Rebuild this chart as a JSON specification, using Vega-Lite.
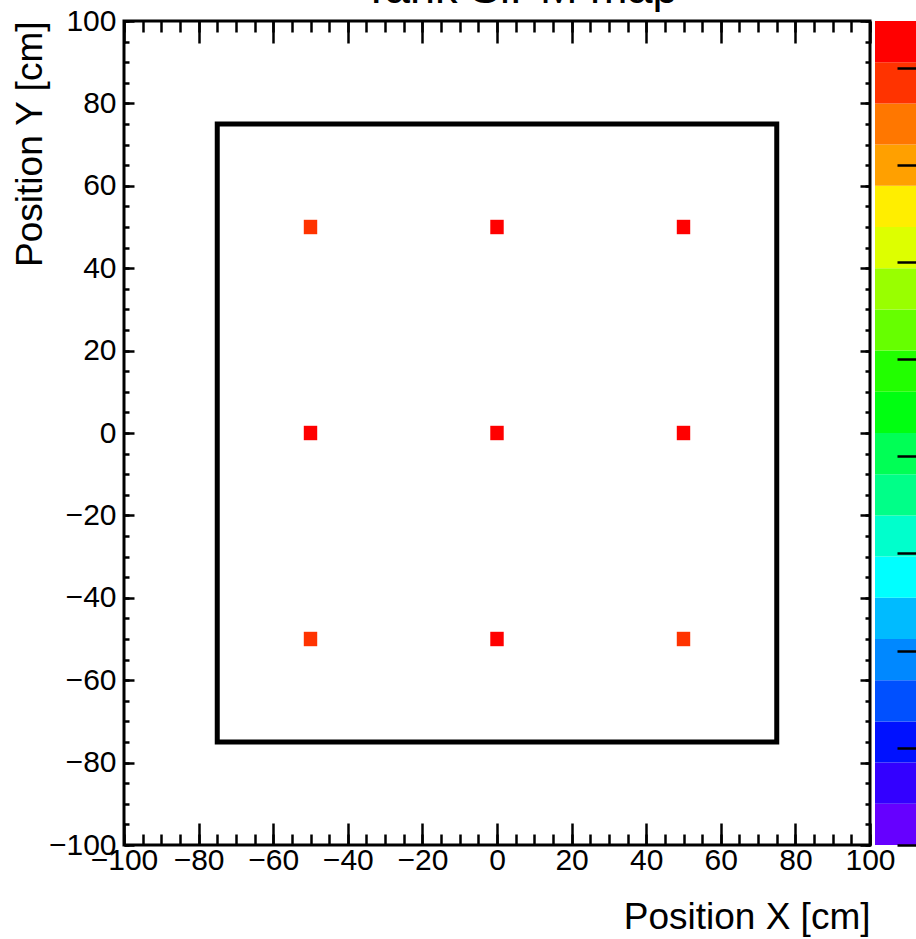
{
  "$schema": "https://vega.github.io/schema/vega-lite/v6.json",
  "background": "white",
  "padding": {"left": 9, "top": -35, "right": 0, "bottom": 0},
  "datasets": {
    "bins": [
      {"row": "top", "xlo": -51.8, "xhi": -48.2, "ylo": 48.25, "yhi": 51.75, "z": 39.5},
      {"row": "top", "xlo": -1.8, "xhi": 1.8, "ylo": 48.25, "yhi": 51.75, "z": 41.6},
      {"row": "top", "xlo": 48.2, "xhi": 51.8, "ylo": 48.25, "yhi": 51.75, "z": 41.2},
      {"row": "mid", "xlo": -51.8, "xhi": -48.2, "ylo": -1.75, "yhi": 1.75, "z": 41.8},
      {"row": "mid", "xlo": -1.8, "xhi": 1.8, "ylo": -1.75, "yhi": 1.75, "z": 42.2},
      {"row": "mid", "xlo": 48.2, "xhi": 51.8, "ylo": -1.75, "yhi": 1.75, "z": 41.5},
      {"row": "bot", "xlo": -51.8, "xhi": -48.2, "ylo": -51.75, "yhi": -48.25, "z": 39.8},
      {"row": "bot", "xlo": -1.8, "xhi": 1.8, "ylo": -51.75, "yhi": -48.25, "z": 41.0},
      {"row": "bot", "xlo": 48.2, "xhi": 51.8, "ylo": -51.75, "yhi": -48.25, "z": 39.4}
    ],
    "tank": [
      {"x1": -75, "x2": 75, "y1": -75, "y2": 75}
    ],
    "palette": [
      {"lo": 0, "hi": 2.12, "mid": 1.06},
      {"lo": 2.12, "hi": 4.24, "mid": 3.18},
      {"lo": 4.24, "hi": 6.36, "mid": 5.3},
      {"lo": 6.36, "hi": 8.48, "mid": 7.42},
      {"lo": 8.48, "hi": 10.6, "mid": 9.54},
      {"lo": 10.6, "hi": 12.72, "mid": 11.66},
      {"lo": 12.72, "hi": 14.84, "mid": 13.78},
      {"lo": 14.84, "hi": 16.96, "mid": 15.9},
      {"lo": 16.96, "hi": 19.08, "mid": 18.02},
      {"lo": 19.08, "hi": 21.2, "mid": 20.14},
      {"lo": 21.2, "hi": 23.32, "mid": 22.26},
      {"lo": 23.32, "hi": 25.44, "mid": 24.38},
      {"lo": 25.44, "hi": 27.56, "mid": 26.5},
      {"lo": 27.56, "hi": 29.68, "mid": 28.62},
      {"lo": 29.68, "hi": 31.8, "mid": 30.74},
      {"lo": 31.8, "hi": 33.92, "mid": 32.86},
      {"lo": 33.92, "hi": 36.04, "mid": 34.98},
      {"lo": 36.04, "hi": 38.16, "mid": 37.1},
      {"lo": 38.16, "hi": 40.28, "mid": 39.22},
      {"lo": 40.28, "hi": 42.4, "mid": 41.34}
    ]
  },
  "spacing": 5,
  "bounds": "flush",
  "hconcat": [
    {
      "width": 746,
      "height": 824,
      "view": {"stroke": "black", "strokeWidth": 3},
      "title": {"text": "Tank SiPM map", "fontSize": 45, "fontWeight": "normal", "font": "Liberation Sans", "color": "black", "anchor": "middle", "frame": "group", "dx": 23, "offset": -6},
      "resolve": {"axis": {"x": "independent", "y": "independent"}},
      "layer": [
        {
          "data": {"name": "bins"},
          "transform": [{"filter": "datum.row === 'top'"}],
          "mark": {"type": "rect", "stroke": null},
          "encoding": {
            "x": {"field": "xlo", "type": "quantitative", "scale": {"domain": [-100, 100], "nice": false, "zero": false},
              "axis": {"orient": "bottom", "values": [-100, -80, -60, -40, -20, 0, 20, 40, 60, 80, 100], "tickSize": -22, "labelPadding": 22, "labelFlush": false, "labelOverlap": false, "labelBound": false, "title": "Position X [cm]", "titleAnchor": "end", "titlePadding": 24}},
            "x2": {"field": "xhi"},
            "y": {"field": "ylo", "type": "quantitative", "scale": {"domain": [-100, 100], "nice": false, "zero": false},
              "axis": {"orient": "left", "values": [-100, -80, -60, -40, -20, 0, 20, 40, 60, 80, 100], "tickSize": -10, "labelPadding": 18, "labelFlush": false, "labelOverlap": false, "labelBound": false, "title": "Position Y [cm]", "titleAnchor": "end", "titlePadding": -1}},
            "y2": {"field": "yhi"},
            "color": {"field": "z", "type": "quantitative", "legend": null,
              "scale": {"type": "quantize", "domain": [0, 42.4], "range": ["#6600ff", "#3300ff", "#0011ff", "#0050ff", "#0088ff", "#00bbff", "#00ffff", "#00ffcc", "#00ff88", "#00ff55", "#00ff11", "#22ff00", "#66ff00", "#99ff00", "#ddff00", "#ffee00", "#ffa000", "#ff7700", "#ff3300", "#ff0000"]}}
          }
        },
        {
          "data": {"name": "bins"},
          "transform": [{"filter": "datum.row === 'mid'"}],
          "mark": {"type": "rect", "stroke": null},
          "encoding": {
            "x": {"field": "xlo", "type": "quantitative", "scale": {"domain": [-100, 100], "nice": false, "zero": false},
              "axis": {"orient": "bottom", "values": [-100, -95, -90, -85, -80, -75, -70, -65, -60, -55, -50, -45, -40, -35, -30, -25, -20, -15, -10, -5, 0, 5, 10, 15, 20, 25, 30, 35, 40, 45, 50, 55, 60, 65, 70, 75, 80, 85, 90, 95, 100], "tickSize": -11, "labels": false, "title": null}},
            "x2": {"field": "xhi"},
            "y": {"field": "ylo", "type": "quantitative", "scale": {"domain": [-100, 100], "nice": false, "zero": false},
              "axis": {"orient": "left", "values": [-100, -95, -90, -85, -80, -75, -70, -65, -60, -55, -50, -45, -40, -35, -30, -25, -20, -15, -10, -5, 0, 5, 10, 15, 20, 25, 30, 35, 40, 45, 50, 55, 60, 65, 70, 75, 80, 85, 90, 95, 100], "tickSize": -5, "labels": false, "title": null}},
            "y2": {"field": "yhi"},
            "color": {"field": "z", "type": "quantitative", "legend": null,
              "scale": {"type": "quantize", "domain": [0, 42.4], "range": ["#6600ff", "#3300ff", "#0011ff", "#0050ff", "#0088ff", "#00bbff", "#00ffff", "#00ffcc", "#00ff88", "#00ff55", "#00ff11", "#22ff00", "#66ff00", "#99ff00", "#ddff00", "#ffee00", "#ffa000", "#ff7700", "#ff3300", "#ff0000"]}}
          }
        },
        {
          "data": {"name": "bins"},
          "transform": [{"filter": "datum.row === 'bot'"}],
          "mark": {"type": "rect", "stroke": null},
          "encoding": {
            "x": {"field": "xlo", "type": "quantitative", "scale": {"domain": [-100, 100], "nice": false, "zero": false},
              "axis": {"orient": "top", "values": [-100, -80, -60, -40, -20, 0, 20, 40, 60, 80, 100], "tickSize": -22, "labels": false, "title": null}},
            "x2": {"field": "xhi"},
            "y": {"field": "ylo", "type": "quantitative", "scale": {"domain": [-100, 100], "nice": false, "zero": false},
              "axis": {"orient": "right", "values": [-100, -80, -60, -40, -20, 0, 20, 40, 60, 80, 100], "tickSize": -10, "labels": false, "title": null}},
            "y2": {"field": "yhi"},
            "color": {"field": "z", "type": "quantitative", "legend": null,
              "scale": {"type": "quantize", "domain": [0, 42.4], "range": ["#6600ff", "#3300ff", "#0011ff", "#0050ff", "#0088ff", "#00bbff", "#00ffff", "#00ffcc", "#00ff88", "#00ff55", "#00ff11", "#22ff00", "#66ff00", "#99ff00", "#ddff00", "#ffee00", "#ffa000", "#ff7700", "#ff3300", "#ff0000"]}}
          }
        },
        {
          "data": {"name": "tank"},
          "mark": {"type": "rect", "filled": false, "color": "black", "strokeWidth": 5},
          "encoding": {
            "x": {"field": "x1", "type": "quantitative", "scale": {"domain": [-100, 100], "nice": false, "zero": false},
              "axis": {"orient": "top", "values": [-100, -95, -90, -85, -80, -75, -70, -65, -60, -55, -50, -45, -40, -35, -30, -25, -20, -15, -10, -5, 0, 5, 10, 15, 20, 25, 30, 35, 40, 45, 50, 55, 60, 65, 70, 75, 80, 85, 90, 95, 100], "tickSize": -11, "labels": false, "title": null}},
            "x2": {"field": "x2"},
            "y": {"field": "y1", "type": "quantitative", "scale": {"domain": [-100, 100], "nice": false, "zero": false},
              "axis": {"orient": "right", "values": [-100, -95, -90, -85, -80, -75, -70, -65, -60, -55, -50, -45, -40, -35, -30, -25, -20, -15, -10, -5, 0, 5, 10, 15, 20, 25, 30, 35, 40, 45, 50, 55, 60, 65, 70, 75, 80, 85, 90, 95, 100], "tickSize": -5, "labels": false, "title": null}},
            "y2": {"field": "y2"}
          }
        }
      ]
    },
    {
      "width": 41,
      "height": 824,
      "view": {"stroke": null},
      "data": {"name": "palette"},
      "mark": {"type": "rect", "stroke": null},
      "encoding": {
        "y": {"field": "lo", "type": "quantitative", "scale": {"domain": [0, 42.4], "nice": false, "zero": false},
          "axis": {"orient": "right", "values": [0, 5, 10, 15, 20, 25, 30, 35, 40], "tickSize": -19, "labels": false, "title": null, "zindex": 1}},
        "y2": {"field": "hi"},
        "color": {"field": "mid", "type": "quantitative", "legend": null,
          "scale": {"type": "quantize", "domain": [0, 42.4], "range": ["#6600ff", "#3300ff", "#0011ff", "#0050ff", "#0088ff", "#00bbff", "#00ffff", "#00ffcc", "#00ff88", "#00ff55", "#00ff11", "#22ff00", "#66ff00", "#99ff00", "#ddff00", "#ffee00", "#ffa000", "#ff7700", "#ff3300", "#ff0000"]}}
      }
    }
  ],
  "config": {
    "font": "Liberation Sans",
    "axis": {
      "grid": false,
      "domain": false,
      "labelFont": "Liberation Sans",
      "titleFont": "Liberation Sans",
      "labelFontSize": 30,
      "titleFontSize": 37,
      "titleFontWeight": "normal",
      "labelColor": "black",
      "titleColor": "black",
      "tickColor": "black",
      "tickWidth": 2.5,
      "tickOpacity": 1
    }
  }
}
